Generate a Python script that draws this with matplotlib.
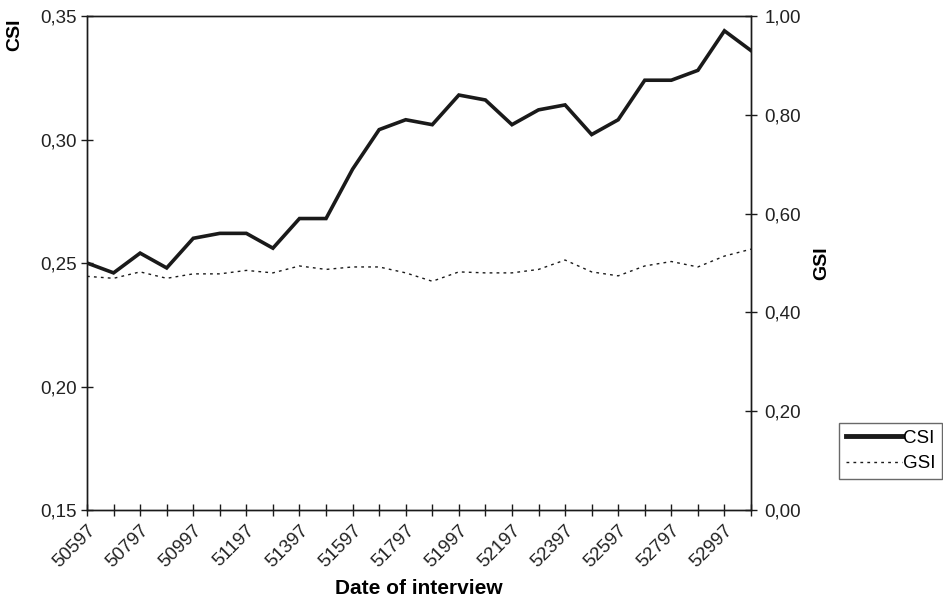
import numpy as np
import matplotlib.pyplot as plt

plt.rcParams['font.family'] = ['Liberation Sans', 'DejaVu Sans']

# data
dates = [str(50597 + 100 * i) for i in range(26)]
csi = [0.250, 0.246, 0.254, 0.248, 0.260, 0.262, 0.262, 0.256, 0.268, 0.268,
       0.288, 0.304, 0.308, 0.306, 0.318, 0.316, 0.306, 0.312, 0.314, 0.302,
       0.308, 0.324, 0.324, 0.328, 0.344, 0.336]
gsi = [0.473, 0.469, 0.482, 0.469, 0.478, 0.478, 0.485, 0.480, 0.494, 0.487,
       0.492, 0.492, 0.480, 0.463, 0.482, 0.480, 0.480, 0.487, 0.506, 0.482,
       0.474, 0.494, 0.503, 0.492, 0.514, 0.528]

x = np.arange(len(dates))
col = "#1a1a1a"
fs = 13.5

fig = plt.figure(figsize=(9.43, 6), dpi=100)
ax = fig.add_axes([87/943, 1 - 510/600, (751 - 87)/943, (510 - 16)/600])
ax2 = ax.twinx()

l1, = ax.plot(x, csi, color=col, lw=2.6, solid_joinstyle='miter', label="CSI")
l2, = ax2.plot(x, gsi, color=col, lw=1.0, linestyle=(0, (2, 3)), label="GSI")

ax.set_xlim(0, len(dates) - 1)
ax.set_ylim(0.15, 0.35)
ax.set_yticks(np.arange(0.15, 0.351, 0.05))
ax.set_yticklabels([f"{v:.2f}".replace(".", ",") for v in np.arange(0.15, 0.351, 0.05)])
ax2.set_ylim(0, 1.0)
ax2.set_yticks(np.arange(0, 1.01, 0.2))
ax2.set_yticklabels([f"{v:.2f}".replace(".", ",") for v in np.arange(0, 1.01, 0.2)])

ax.set_xticks(x)
ax.set_xticklabels([d if i % 2 == 0 else "" for i, d in enumerate(dates)],
                   rotation=45, ha='right', rotation_mode='anchor')

for a in (ax, ax2):
    a.tick_params(direction='inout', length=9, width=1, color=col, labelsize=fs,
                  labelcolor="#222222")
    for s in a.spines.values():
        s.set_color(col)
        s.set_linewidth(1)
ax.tick_params(axis='y', pad=3)
ax.tick_params(axis='x', pad=4)
ax2.tick_params(axis='y', pad=5)

fig.text(419/943, 1 - 588/600, "Date of interview", fontsize=15, fontweight='bold',
         ha='center', va='center')
fig.text(15/943, 1 - 35/600, "CSI", rotation=90, fontsize=14, fontweight='bold',
         ha='center', va='center')
fig.text(822/943, 1 - 263/600, "GSI", rotation=90, fontsize=14, fontweight='bold',
         ha='center', va='center')

leg = fig.legend(handles=[l1, l2], loc='upper left',
                 bbox_to_anchor=(839/943, 1 - 423/600), fontsize=fs,
                 frameon=True, fancybox=False, handlelength=3.0,
                 handletextpad=0.05, borderpad=0.35, labelspacing=0.45,
                 borderaxespad=0)
leg.get_frame().set_edgecolor("#444444")
leg.get_frame().set_linewidth(1)
leg.get_lines()[0].set_linewidth(3.5)

fig.savefig("out.png", dpi=100)
